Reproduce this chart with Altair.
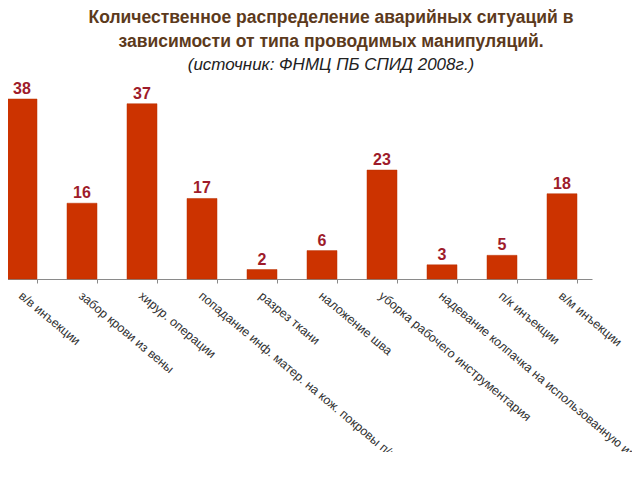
import altair as alt
import pandas as pd

categories = [
    "в/в инъекции",
    "забор крови из вены",
    "хирур. операции",
    "попадание инф. матер. на кож. покровы п/к",
    "разрез ткани",
    "наложение шва",
    "уборка рабочего инструментария",
    "надевание колпачка на использованную иглу",
    "п/к инъекции",
    "в/м инъекции",
]
values = [38, 16, 37, 17, 2, 6, 23, 3, 5, 18]

df = pd.DataFrame({"cat": categories, "val": values})

x = alt.X(
    "cat:N",
    sort=categories,
    title=None,
    scale=alt.Scale(paddingInner=0.5, paddingOuter=0.25),
    axis=alt.Axis(
        labelAngle=40,
        labelAlign="left",
        labelBaseline="top",
        labelFont="Liberation Sans",
        labelFontSize=12.5,
        labelColor="#333333",
        labelLimit=400,
        labelPadding=6,
        labelOffset=2,
        tickBand="extent",
        tickSize=4,
        tickColor="#8a8a8a",
        domainColor="#8a8a8a",
        labelOverlap=False,
    ),
)
y = alt.Y("val:Q", title=None, scale=alt.Scale(domain=[0, 38]), axis=None)

bars = alt.Chart(df).mark_bar(color="#CC3300", stroke="#B83000", strokeWidth=0.5).encode(x=x, y=y)
labels = alt.Chart(df).mark_text(
    baseline="bottom", dy=-2, font="Liberation Sans", fontSize=16, fontWeight="bold", color="#9E1B2A"
).encode(x=x, y=y, text="val:Q")

chart = (
    alt.layer(bars, labels)
    .properties(
        width=600,
        height=180,
        autosize=alt.AutoSizeParams(type="none"),
        padding={"left": -16, "top": 91, "right": 40, "bottom": 173},
        title=alt.TitleParams(
            text=[
                "Количественное распределение аварийных ситуаций в",
                "зависимости от типа проводимых манипуляций.",
            ],
            subtitle="(источник: ФНМЦ ПБ СПИД 2008г.)",
            font="Liberation Sans",
            fontSize=17.5,
            fontWeight="bold",
            color="#5C3A1C",
            lineHeight=24,
            subtitleFont="Liberation Sans",
            subtitleFontSize=17,
            subtitleFontStyle="italic",
            subtitleColor="#222222",
            subtitlePadding=7,
            anchor="middle",
            dx=39,
            offset=8,
        ),
    )
    .configure_view(stroke=None)
)

chart.save("out.html", embed_options={"renderer": "svg", "actions": False})
